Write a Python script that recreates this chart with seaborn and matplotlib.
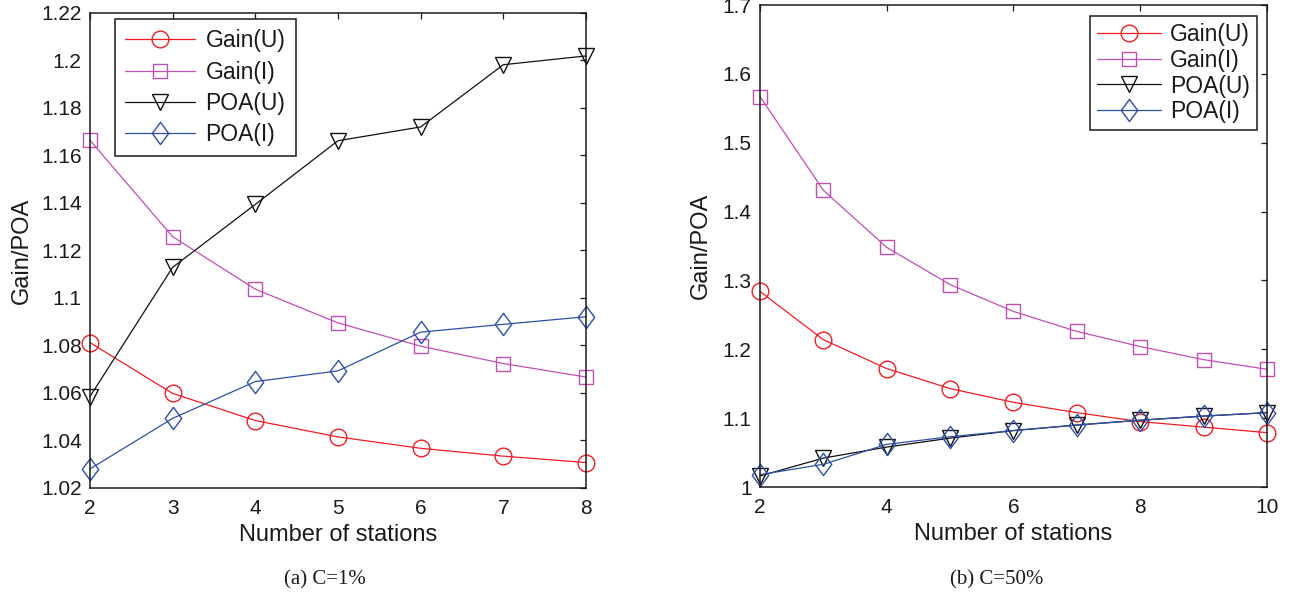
import numpy as np
import pandas as pd
import matplotlib
matplotlib.use("Agg")
import matplotlib.pyplot as plt
from matplotlib.path import Path
import seaborn as sns

# ---- data -------------------------------------------------------------
series_names = ["Gain(U)", "Gain(I)", "POA(U)", "POA(I)"]

stations_a = [2, 3, 4, 5, 6, 7, 8]
gain_u_a = [1.0812, 1.0598, 1.0484, 1.0415, 1.0367, 1.0334, 1.0307]
gain_i_a = [1.1664, 1.1258, 1.1037, 1.0895, 1.0797, 1.0724, 1.0667]
poa_u_a = [1.0585, 1.1129, 1.1394, 1.1662, 1.1720, 1.1982, 1.2019]
poa_i_a = [1.0280, 1.0493, 1.0648, 1.0693, 1.0856, 1.0889, 1.0921]

stations_b = [2, 3, 4, 5, 6, 7, 8, 9, 10]
gain_u_b = [1.284, 1.214, 1.172, 1.143, 1.123, 1.108, 1.095, 1.087, 1.079]
gain_i_b = [1.567, 1.431, 1.348, 1.294, 1.255, 1.226, 1.204, 1.185, 1.171]
poa_u_b = [1.016, 1.042, 1.058, 1.071, 1.082, 1.090, 1.097, 1.103, 1.108]
poa_i_b = [1.018, 1.033, 1.062, 1.073, 1.082, 1.090, 1.097, 1.103, 1.108]

xticks_a = [2, 3, 4, 5, 6, 7, 8]
yticks_a = [1.02, 1.04, 1.06, 1.08, 1.10, 1.12, 1.14, 1.16, 1.18, 1.20, 1.22]
yticklabels_a = ["1.02", "1.04", "1.06", "1.08", "1.1", "1.12", "1.14",
                 "1.16", "1.18", "1.2", "1.22"]
xticks_b = [2, 4, 6, 8, 10]
yticks_b = [1.0, 1.1, 1.2, 1.3, 1.4, 1.5, 1.6, 1.7]
yticklabels_b = ["1", "1.1", "1.2", "1.3", "1.4", "1.5", "1.6", "1.7"]

x_label = "Number of stations"
y_label = "Gain/POA"
captions = ["(a) C=1%", "(b) C=50%"]

# ---- style ------------------------------------------------------------
sns.set_style("white")
plt.rcParams["font.family"] = ["Liberation Sans", "DejaVu Sans"]
plt.rcParams["text.color"] = "#1a1a1a"
plt.rcParams["axes.labelcolor"] = "#1a1a1a"

# MATLAB-like diamond, a bit taller than wide
diamond = Path([(-0.37, 0.0), (0.0, 0.5), (0.37, 0.0), (0.0, -0.5), (-0.37, 0.0)],
               [Path.MOVETO, Path.LINETO, Path.LINETO, Path.LINETO, Path.CLOSEPOLY])

styles = {
    "Gain(U)": dict(color="#ee1c25", marker="o", ms=12),
    "Gain(I)": dict(color="#c04fb3", marker="s", ms=10),
    "POA(U)": dict(color="#111111", marker="v", ms=12),
    "POA(I)": dict(color="#2e4fa8", marker=diamond, ms=16),
}


def long_frame(x, cols):
    frames = []
    for name, vals in zip(series_names, cols):
        frames.append(pd.DataFrame({"stations": x, "value": vals, "series": name}))
    return pd.concat(frames, ignore_index=True)


data_a = long_frame(stations_a, [gain_u_a, gain_i_a, poa_u_a, poa_i_a])
data_b = long_frame(stations_b, [gain_u_b, gain_i_b, poa_u_b, poa_i_b])

fig = plt.figure(figsize=(12.89, 5.94), dpi=100)
ax_a = fig.add_axes([0.0698, 0.1785, 0.3848, 0.7997])
ax_b = fig.add_axes([0.5896, 0.1801, 0.3933, 0.8114])


def draw(ax, df):
    for name in series_names:
        st = styles[name]
        sub = df[df["series"] == name]
        sns.lineplot(data=sub, x="stations", y="value", ax=ax,
                     color=st["color"], marker=st["marker"], markersize=st["ms"],
                     markerfacecolor="none", markeredgecolor=st["color"],
                     markeredgewidth=1.0, linewidth=0.9, label=name,
                     errorbar=None, clip_on=False)


def dress(ax, xlim, ylim, xt, yt, ytl, ylab_x):
    ax.set_xlim(*xlim)
    ax.set_ylim(*ylim)
    ax.set_xticks(xt)
    ax.set_xticklabels([str(v) for v in xt])
    ax.set_yticks(yt)
    ax.set_yticklabels(ytl)
    ax.tick_params(direction="in", top=True, right=True, length=4.5,
                   width=0.9, labelsize=15, pad=6, colors="#1a1a1a")
    ax.tick_params(axis="x", pad=8)
    for sp in ax.spines.values():
        sp.set_color("#1a1a1a")
        sp.set_linewidth(1.1)
        sp.set_visible(True)
    ax.set_xlabel(x_label, fontsize=17, labelpad=4)
    ax.set_ylabel(y_label, fontsize=17)
    ax.yaxis.set_label_coords(ylab_x, 0.5)


draw(ax_a, data_a)
draw(ax_b, data_b)

dress(ax_a, (2, 8), (1.02, 1.22), xticks_a, yticks_a, yticklabels_a, -0.115)
dress(ax_b, (2, 10), (1.0, 1.7), xticks_b, yticks_b, yticklabels_b, -0.094)

h, l = ax_a.get_legend_handles_labels()
leg_a = ax_a.legend(h, l, loc="upper left", bbox_to_anchor=(0.0504, 0.987),
                    fontsize=16.5, frameon=True, fancybox=False, framealpha=1,
                    edgecolor="#1a1a1a", handlelength=3.05, handletextpad=0.45,
                    labelspacing=0.36, borderpad=0.45, borderaxespad=0)
leg_a.get_frame().set_linewidth(1.1)

h, l = ax_b.get_legend_handles_labels()
leg_b = ax_b.legend(h, l, loc="upper right", bbox_to_anchor=(0.980, 0.977),
                    fontsize=16.5, frameon=True, fancybox=False, framealpha=1,
                    edgecolor="#1a1a1a", handlelength=2.8, handletextpad=0.4,
                    labelspacing=0.12, borderpad=0.3, borderaxespad=0)
leg_b.get_frame().set_linewidth(1.1)

fig.text(0.2521, 0.024, captions[0], family="Liberation Serif", fontsize=15,
         ha="center", va="center")
fig.text(0.7735, 0.024, captions[1], family="Liberation Serif", fontsize=15,
         ha="center", va="center")

fig.savefig("out.png", dpi=100, facecolor="white")
